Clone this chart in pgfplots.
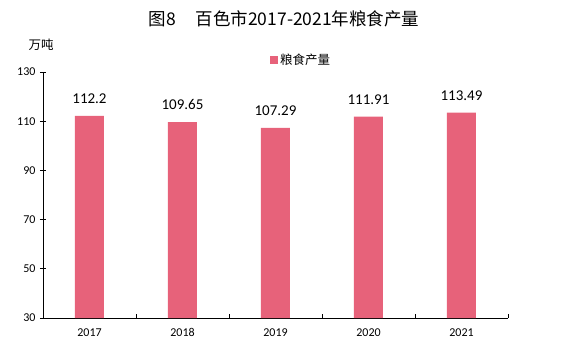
\documentclass[border=0pt]{standalone}
\usepackage{fontspec}
\setmainfont{Carlito}
\newfontfamily\cjk{Noto Sans CJK SC}
\usepackage{pgfplots}
\pgfplotsset{compat=1.18}
\definecolor{barc}{RGB}{231,98,122}
\begin{document}
\begin{tikzpicture}
\path (0pt,0pt) rectangle (563pt,354pt);
\node[font=\cjk\fontsize{17.5}{17.5}\selectfont] at (284pt,335pt) {图8\hspace{20pt}百色市2017-2021年粮食产量};
\node[font=\cjk\fontsize{12.5}{12.5}\selectfont] at (41pt,309pt) {万吨};
\begin{axis}[
  at={(43pt,36pt)}, anchor=south west,
  scale only axis, width=465pt, height=246pt,
  xmin=-0.5, xmax=4.5, ymin=30, ymax=130,
  ytick={30,50,70,90,110,130},
  xtick={0,1,2,3,4},
  xticklabels={2017,2018,2019,2020,2021},
  minor xtick={0.5,1.5,2.5,3.5,4.5},
  major tick length=6pt, minor tick length=4pt,
  major x tick style={draw=none},
  xtick align=inside,
  ytick align=center,
  axis x line*=bottom, axis y line*=left,
  axis line style={-, line width=0.9pt, black},
  every tick/.style={black, line width=0.8pt},
  tick label style={font=\fontsize{12}{12}\selectfont},
  xticklabel style={yshift=-7pt},
  yticklabel style={xshift=-1pt},
  /pgf/number format/assume math mode=true,
  legend style={at={(0.555,1.049)}, anchor=center, draw=none, fill=none,
    font=\cjk\fontsize{12.5}{12.5}\selectfont},
  legend image code/.code={\fill[barc] (0pt,-4pt) rectangle (8pt,4pt);},
  nodes near coords,
  every node near coord/.append style={font=\fontsize{15}{15}\selectfont, yshift=8.5pt, black},
  point meta=explicit symbolic,
]
\addplot[ybar, bar width=29pt, fill=barc, draw=none] coordinates {
  (0,112.2)[112.2] (1,109.65)[109.65] (2,107.29)[107.29] (3,111.91)[111.91] (4,113.49)[113.49]
};
\addlegendentry{粮食产量}
\end{axis}
\end{tikzpicture}
\end{document}
